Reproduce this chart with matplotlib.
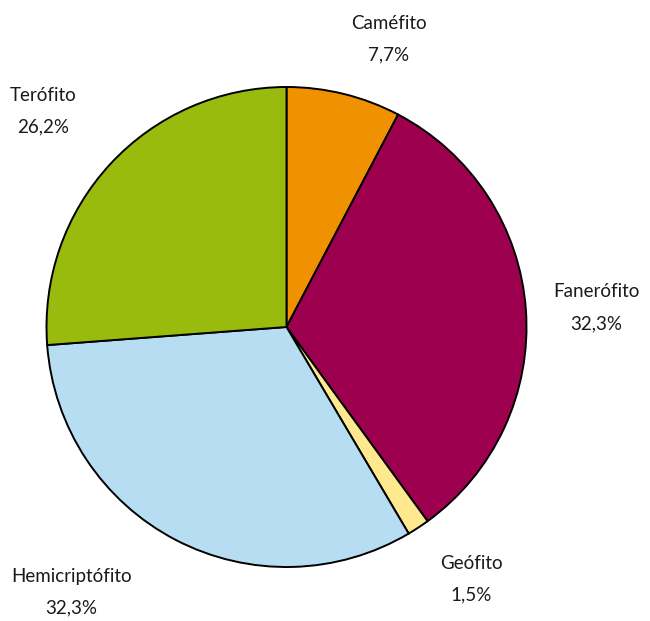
import matplotlib.pyplot as plt

labels = ['Caméfito', 'Fanerófito', 'Geófito', 'Hemicriptófito', 'Terófito']
values = [7.7, 32.3, 1.5, 32.3, 26.2]
colors = ['#F09100', '#9E0050', '#FFE98F', '#B6DDF2', '#99BB0E']

# label centres in pie data units (radius = 1)
label_pos = [(0.425, 1.20), (1.29, 0.08), (0.77, -1.05), (-0.895, -1.105), (-1.015, 0.9)]

plt.rcParams['font.family'] = ['Lato', 'DejaVu Sans']

fig = plt.figure(figsize=(6.5, 6.21), dpi=100)
ax = fig.add_axes([46.5 / 650, 54 / 621, 480 / 650, 480 / 621])

ax.pie(values, colors=colors, startangle=90, counterclock=False,
       radius=1, wedgeprops=dict(edgecolor='black', linewidth=1.4))
ax.set_xlim(-1, 1)
ax.set_ylim(-1, 1)
ax.set_aspect('equal')

for name, val, (x, y) in zip(labels, values, label_pos):
    txt = f'{name}\n{val:.1f}%'.replace('.', ',')
    ax.text(x, y, txt, ha='center', va='center', fontsize=13.5,
            linespacing=2.05, color='#1a1a1a', clip_on=False)

fig.savefig('out.png', dpi=100)
